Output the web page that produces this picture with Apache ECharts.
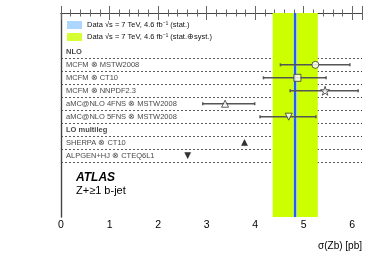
<!DOCTYPE html>
<html>
<head>
<meta charset="utf-8">
<script src="https://cdn.jsdelivr.net/npm/echarts@6/dist/echarts.min.js"></script>
<style>html,body{margin:0;padding:0;background:#fff}#c{width:382px;height:259px}</style>
</head>
<body>
<div id="c"></div>
<script>
// ---- data ----
const xTicks = [0, 1, 2, 3, 4, 5, 6];
const rowLabels = ['NLO', 'MCFM ⊗ MSTW2008', 'MCFM ⊗ CT10', 'MCFM ⊗ NNPDF2.3',
  'aMC@NLO 4FNS ⊗ MSTW2008', 'aMC@NLO 5FNS ⊗ MSTW2008', 'LO multileg',
  'SHERPA ⊗ CT10', 'ALPGEN+HJ ⊗ CTEQ6L1'];
const headerRows = ['NLO', 'LO multileg'];
const models = ['MCFM ⊗ MSTW2008', 'MCFM ⊗ CT10', 'MCFM ⊗ NNPDF2.3',
  'aMC@NLO 4FNS ⊗ MSTW2008', 'aMC@NLO 5FNS ⊗ MSTW2008', 'SHERPA ⊗ CT10', 'ALPGEN+HJ ⊗ CTEQ6L1'];
const predCentral = [5.24, 4.87, 5.44, 3.38, 4.69, 3.78, 2.61];
const predLow = [4.52, 4.17, 4.72, 2.92, 4.10, null, null];
const predHigh = [5.95, 5.46, 6.12, 3.99, 5.25, null, null];
const dataCentral = 4.82;
const dataStat = [4.79, 4.86];
const dataTotal = [4.36, 5.29];
const legendNames = ['Data √s = 7 TeV, 4.6 fb⁻¹ (stat.)', 'Data √s = 7 TeV, 4.6 fb⁻¹ (stat.⊕syst.)'];

// ---- derived ----
const firstRow = 3; // rows 1,2 are the legend
const rowOf = name => rowLabels.indexOf(name) + firstRow;
const sepLines = rowLabels.map((_, i) => ({ yAxis: i + firstRow + 0.5 }));

const FONT = 'Liberation Sans, Arial, Helvetica, sans-serif';
const frame = '#444';

const symbols = ['circle', 'rect', 'path://M50,0 L61,35 L98,35 L68,57 L79,91 L50,70 L21,91 L32,57 L2,35 L39,35 Z',
  'triangle', 'triangle', 'triangle', 'triangle'];
const filled = [false, false, false, false, false, true, true];
const rot = [0, 0, 0, 0, 180, 0, 180];
const sizes = [7, 7, 9, 7, 7, 6, 6];

const pointData = models.map((m, i) => ({
  value: [predCentral[i], rowOf(m)],
  symbol: symbols[i],
  symbolRotate: rot[i],
  symbolSize: sizes[i],
  itemStyle: filled[i] ? { color: '#000', borderColor: '#000', borderWidth: 0.5 }
    : { color: '#fff', borderColor: '#333', borderWidth: 1 }
}));

const errData = models.map((m, i) => [predLow[i], predHigh[i], rowOf(m)])
  .filter(d => d[0] !== null);

const labelData = rowLabels.map(r => ({
  value: [0, rowOf(r)],
  name: r,
  label: { fontWeight: headerRows.includes(r) ? 'bold' : 'normal' }
}));

const chart = echarts.init(document.getElementById('c'));
chart.setOption({
  animation: false,
  grid: { left: 61, right: 20, top: 13, bottom: 42 },
  legend: {
    data: legendNames, orient: 'vertical', left: 62, top: 16, itemWidth: 15, itemHeight: 8,
    itemGap: 4, icon: 'rect', selectedMode: false,
    textStyle: { fontFamily: FONT, fontSize: 7.5, color: '#111' }
  },
  xAxis: [{
    type: 'value', min: 0, max: 6.2, interval: 1, position: 'bottom',
    axisLine: { show: true, lineStyle: { color: frame, width: 1.2 } },
    axisTick: { inside: true, length: 7, lineStyle: { color: '#666' } },
    minorTick: { show: true, splitNumber: 5, length: 3.5, lineStyle: { color: '#666' } },
    splitLine: { show: false },
    axisLabel: { margin: 3, color: '#000', fontFamily: FONT, fontSize: 10.5,
      formatter: v => xTicks.includes(v) ? String(v) : '' }
  }, {
    type: 'value', min: 0, max: 6.2, interval: 1, position: 'top',
    axisLine: { show: true, lineStyle: { color: frame, width: 1.2 } },
    axisTick: { inside: true, length: 7, lineStyle: { color: '#666' } },
    minorTick: { show: true, splitNumber: 5, length: 3.5, lineStyle: { color: '#666' } },
    splitLine: { show: false }, axisLabel: { show: false }
  }],
  yAxis: [{
    type: 'value', min: 0, max: 15.74, inverse: true, position: 'left',
    axisLine: { show: true, lineStyle: { color: frame, width: 1.2 } },
    axisTick: { show: false }, axisLabel: { show: false }, splitLine: { show: false }
  }, {
    type: 'value', min: 0, max: 15.74, inverse: true, position: 'right',
    axisLine: { show: true, lineStyle: { color: frame, width: 1.2 } },
    axisTick: { show: false }, axisLabel: { show: false }, splitLine: { show: false }
  }],
  series: [
    { // separators
      type: 'scatter', data: [], silent: true, z: 0,
      markLine: { silent: true, symbol: 'none', z: 0, label: { show: false },
        lineStyle: { type: [2, 2], color: '#333', width: 0.8 }, data: sepLines }
    },
    {
      name: legendNames[1], type: 'scatter', data: [[dataCentral, 0]], symbolSize: 0, z: 1,
      itemStyle: { color: '#ccff00' },
      markArea: { silent: true, z: 1, itemStyle: { color: '#ccff00' },
        data: [[{ xAxis: dataTotal[0] }, { xAxis: dataTotal[1] }]] }
    },
    {
      name: legendNames[0], type: 'scatter', data: [[dataCentral, 0]], symbolSize: 0, z: 1,
      itemStyle: { color: '#99ccff' },
      markArea: { silent: true, z: 1.2, itemStyle: { color: '#99ccff' },
        data: [[{ xAxis: dataStat[0] }, { xAxis: dataStat[1] }]] },
      markLine: { silent: true, symbol: 'none', z: 1.5, label: { show: false },
        lineStyle: { type: 'solid', color: '#0033ff', width: 1.5 }, data: [{ xAxis: dataCentral }] }
    },
    { // row labels
      type: 'scatter', data: labelData, symbolSize: 0, z: 3, silent: true,
      label: { show: true, position: 'right', distance: 0, offset: [5, 0],
        formatter: p => p.name, fontFamily: FONT, fontSize: 7.5, color: '#111' }
    },
    { // error bars
      type: 'custom', z: 3, silent: true, data: errData,
      renderItem: (params, api) => {
        const a = api.coord([api.value(0), api.value(2)]);
        const b = api.coord([api.value(1), api.value(2)]);
        const st = { stroke: '#555', lineWidth: 1.5 };
        return { type: 'group', children: [
          { type: 'line', shape: { x1: a[0], y1: a[1], x2: b[0], y2: b[1] }, style: st },
          { type: 'line', shape: { x1: a[0], y1: a[1] - 1.5, x2: a[0], y2: a[1] + 1.5 }, style: st },
          { type: 'line', shape: { x1: b[0], y1: b[1] - 1.5, x2: b[0], y2: b[1] + 1.5 }, style: st }
        ] };
      }
    },
    { // markers
      type: 'scatter', z: 4, silent: true, data: pointData
    }
  ],
  graphic: [
    { type: 'text', left: 76, top: 172, style: { text: 'ATLAS', font: 'italic bold 12px ' + FONT, fill: '#000' } },
    { type: 'text', left: 76, top: 185, style: { text: 'Z+≥1 b-jet', font: '11px ' + FONT, fill: '#000' } },
    { type: 'text', right: 20, top: 241, style: { text: 'σ(Zb) [pb]', font: '10px ' + FONT, fill: '#000' } }
  ]
});
</script>
</body>
</html>
